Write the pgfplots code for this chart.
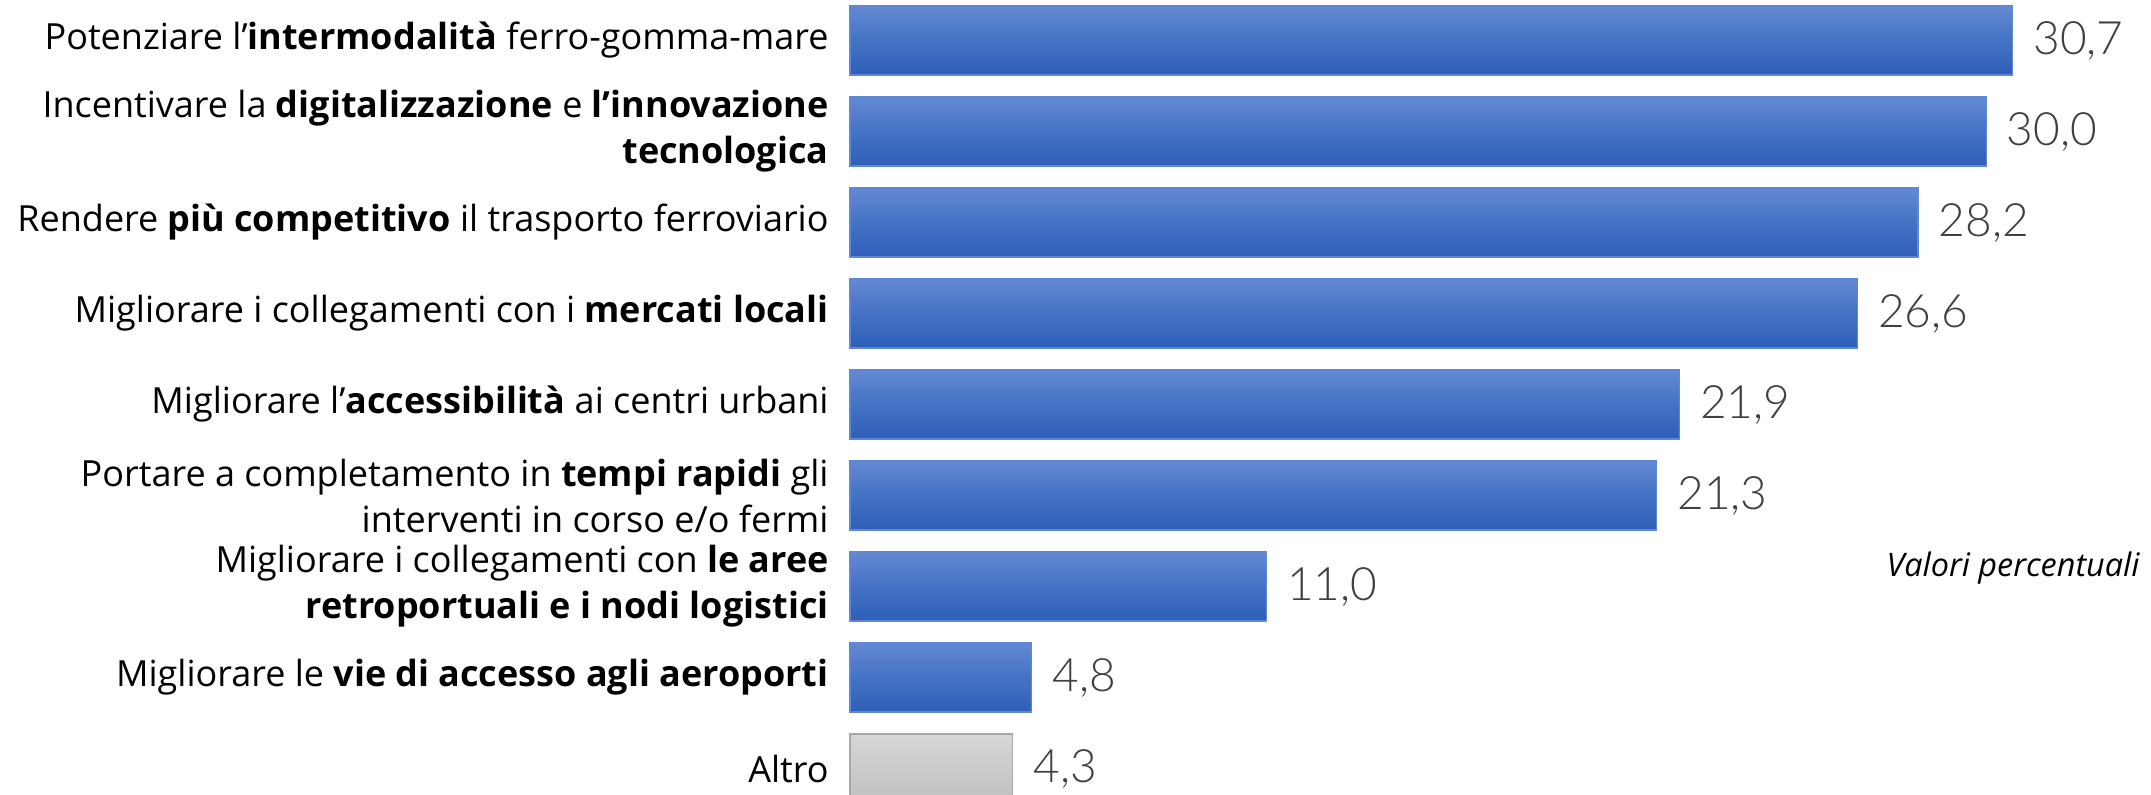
\documentclass[border=0pt]{standalone}
\usepackage{fontspec}
\setmainfont{Open Sans}
\newfontfamily\lightfont{Lato Light}
\usepackage{pgfplots}
\pgfplotsset{compat=1.18}

\definecolor{barTop}{HTML}{6489D3}
\definecolor{barMid}{HTML}{4472C4}
\definecolor{barBot}{HTML}{2E5EB8}
\definecolor{barEdge}{HTML}{5E88D6}
\definecolor{altTop}{HTML}{D6D6D6}
\definecolor{altBot}{HTML}{C0C0C0}
\definecolor{altEdge}{HTML}{A8A8A8}
\definecolor{valGray}{HTML}{404040}

\pgfplotsset{
    bluebar/.style={xbar, bar shift=0pt, draw=barEdge, line width=0.6pt,
        top color=barTop, bottom color=barBot, middle color=barMid},
    greybar/.style={xbar, bar shift=0pt, draw=altEdge, line width=0.6pt,
        top color=altTop, bottom color=altBot},
}

\begin{document}
\begin{tikzpicture}
\begin{axis}[
    at={(425pt,-10pt)}, anchor=south west,
    scale only axis,
    width=606pt, height=409.5pt,
    xmin=0, xmax=32,
    ymin=-0.5, ymax=8.5,
    y dir=reverse,
    clip=false,
    axis line style={draw=none},
    major tick length=0pt,
    xtick=\empty,
    ytick={0,1,2,3,4,5,6,7,8},
    yticklabels={
        {Potenziare l’\textbf{intermodalità} ferro-gomma-mare},
        {Incentivare la \textbf{digitalizzazione} e \textbf{l’innovazione}\\\textbf{tecnologica}},
        {Rendere \textbf{più competitivo} il trasporto ferroviario},
        {Migliorare i collegamenti con i \textbf{mercati locali}},
        {Migliorare l’\textbf{accessibilità} ai centri urbani},
        {Portare a completamento in \textbf{tempi rapidi} gli\\interventi in corso e/o fermi},
        {Migliorare i collegamenti con \textbf{le aree}\\\textbf{retroportuali e i nodi logistici}},
        {Migliorare le \textbf{vie di accesso agli aeroporti}},
        {Altro}
    },
    yticklabel style={align=right, inner sep=0pt, xshift=-10.5pt,
        font=\fontsize{18}{23}\selectfont, text=black},
    /pgf/number format/assume math mode=true,
    xbar, bar width=34.5pt,
    nodes near coords={\pgfmathprintnumber[fixed,fixed zerofill,precision=1,use comma]{\pgfplotspointmeta}},
    nodes near coords style={anchor=west, inner sep=0pt, xshift=10pt,
        font=\lightfont\fontsize{23}{23}\selectfont, text=valGray},
]
\addplot[bluebar] coordinates {(30.7,0)};
\addplot[bluebar] coordinates {(30.0,1)};
\addplot[bluebar] coordinates {(28.2,2)};
\addplot[bluebar] coordinates {(26.6,3)};
\addplot[bluebar] coordinates {(21.9,4)};
\addplot[bluebar] coordinates {(21.3,5)};
\addplot[bluebar] coordinates {(11.0,6)};
\addplot[bluebar] coordinates {(4.8,7)};
\addplot[greybar] coordinates {(4.3,8)};
\end{axis}
\node[anchor=base east, inner sep=0pt, font=\itshape\fontsize{16.2}{16.2}\selectfont]
    at (1070pt,109pt) {Valori percentuali};
\pgfresetboundingbox
\path[use as bounding box] (0,0) rectangle (1075.5pt,397pt);
\end{tikzpicture}
\end{document}
